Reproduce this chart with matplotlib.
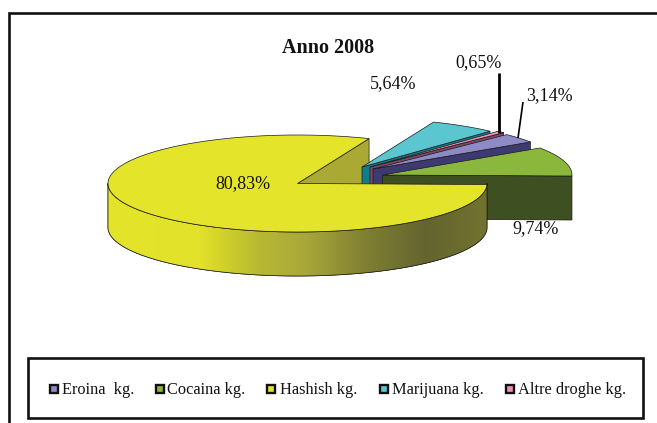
import numpy as np
import matplotlib
matplotlib.use("Agg")
import matplotlib.pyplot as plt
from matplotlib.colors import LinearSegmentedColormap
from matplotlib.patches import Polygon, Rectangle

# --- data ---
categories = ["Eroina  kg.", "Cocaina kg.", "Hashish kg.", "Marijuana kg.", "Altre droghe kg."]
values = [3.14, 9.74, 80.83, 5.64, 0.65]
value_labels = ["3,14%", "9,74%", "80,83%", "5,64%", "0,65%"]
title = "Anno 2008"

# --- styles / layout (pixel coordinates of the 657x423 canvas) ---
top_colors = ["#8E8AC6", "#8BB83C", "#E4E42A", "#5CC6D0", "#F08DB8"]
wall_colors = ["#3C3A70", "#3E4F22", "#A9A934", "#0E7F88", "#7C4763"]
centers = [(373, 169), (382.5, 175), (297.5, 183.5), (362, 167), (370, 167)]
label_pos = [(549, 96), (536, 229), (243, 184), (393, 84), (479, 63)]
legend_marker_x = [54, 160, 271, 384, 510]
legend_text_x = [61.5, 167, 280, 392, 518]
RX, RY, DEPTH = 189.5, 48.5, 44
ROTATION = -1.2
FONT = "Liberation Serif"
FS = 13.0
FS_LEG = 11.8
FS_TITLE = 14.5

fig = plt.figure(figsize=(6.57, 4.23), dpi=100)
ax = fig.add_axes([0, 0, 1, 1])
ax.set_xlim(0, 657)
ax.set_ylim(423, 0)
ax.axis("off")

# slice angles: clockwise from the start of the first category
fractions = np.array(values) / sum(values) * 360
start = (values[0] + values[1]) * 3.6 + ROTATION
ends = start - np.cumsum(fractions)
starts = ends + fractions


def rim(c, ang):
    a = np.radians(ang)
    return np.column_stack([c[0] + RX * np.cos(a), c[1] - RY * np.sin(a)])


edge = dict(edgecolor="#1a1a1a", linewidth=0.5)


def cut_wall(i, z):
    c = centers[i]
    p = rim(c, [ends[i]])[0]
    ax.add_patch(Polygon([c, p, (p[0], p[1] + DEPTH), (c[0], c[1] + DEPTH)],
                         closed=True, facecolor=wall_colors[i], zorder=z, **edge))


def top(i, z):
    c = centers[i]
    angs = np.linspace(ends[i], starts[i], 200)
    ax.add_patch(Polygon(np.vstack([[c], rim(c, angs)]), closed=True,
                         facecolor=top_colors[i], zorder=z, **edge))


# the cut wall of the big slice lies behind the exploded slices
cut_wall(2, 1)
z = 2
for i in [3, 4, 0, 1]:
    cut_wall(i, z)
    top(i, z + 1)
    z += 2

# outer wall of the big slice with a horizontal gradient
c = centers[2]
low = rim(c, np.linspace(-180, 0, 200))
wall = np.vstack([low, (low + [0, DEPTH])[::-1]])
poly = Polygon(wall, closed=True, facecolor="none", zorder=z, **edge)
ax.add_patch(poly)
cmap = LinearSegmentedColormap.from_list("wall", [
    (0.0, "#E4E42A"), (0.24, "#E2E22A"), (0.30, "#D2D22A"), (0.40, "#B8B834"),
    (0.52, "#A8A83A"), (0.68, "#807F32"), (0.84, "#646430"), (1.0, "#72722F")])
im = ax.imshow(np.linspace(0, 1, 256).reshape(1, -1), cmap=cmap, aspect="auto",
               extent=(c[0] - RX, c[0] + RX, c[1] + RY + DEPTH, c[1] - RY), zorder=z)
im.set_clip_path(poly)
ax.set_xlim(0, 657)
ax.set_ylim(423, 0)
ax.add_patch(Polygon(wall, closed=True, facecolor="none", zorder=z + 0.5, **edge))
top(2, z + 1)

txt = dict(family=FONT, color="#111111", ha="center", va="center", zorder=50)
for s, (x, y) in zip(value_labels, label_pos):
    ax.text(x, y, s, fontsize=FS, **txt)
ax.text(328, 48, title, fontsize=FS_TITLE, fontweight="bold", **txt)

# leader lines
ax.plot([499, 499], [133, 73], color="black", lw=2.0, solid_capstyle="butt", zorder=40)
ax.plot([518, 523], [138, 102], color="black", lw=1.2, solid_capstyle="butt", zorder=40)

# chart frame (left and top only)
ax.plot([9, 9, 657], [423, 13.5, 13.5], color="#111111", lw=1.9,
        solid_joinstyle="miter", zorder=45)

# legend box
ax.add_patch(Rectangle((28, 358), 615, 60, facecolor="white", edgecolor="#111111",
                       linewidth=1.9, zorder=45))
for name, col, mx, tx in zip(categories, top_colors, legend_marker_x, legend_text_x):
    ax.add_patch(Rectangle((mx - 4.2, 384.8), 8.4, 8.4, facecolor=col, edgecolor="#111111",
                           linewidth=1.7, zorder=46))
    ax.text(tx, 389.5, name, family=FONT, fontsize=FS_LEG, color="#111111", ha="left",
            va="center", zorder=47)

fig.savefig("out.png", dpi=100)
